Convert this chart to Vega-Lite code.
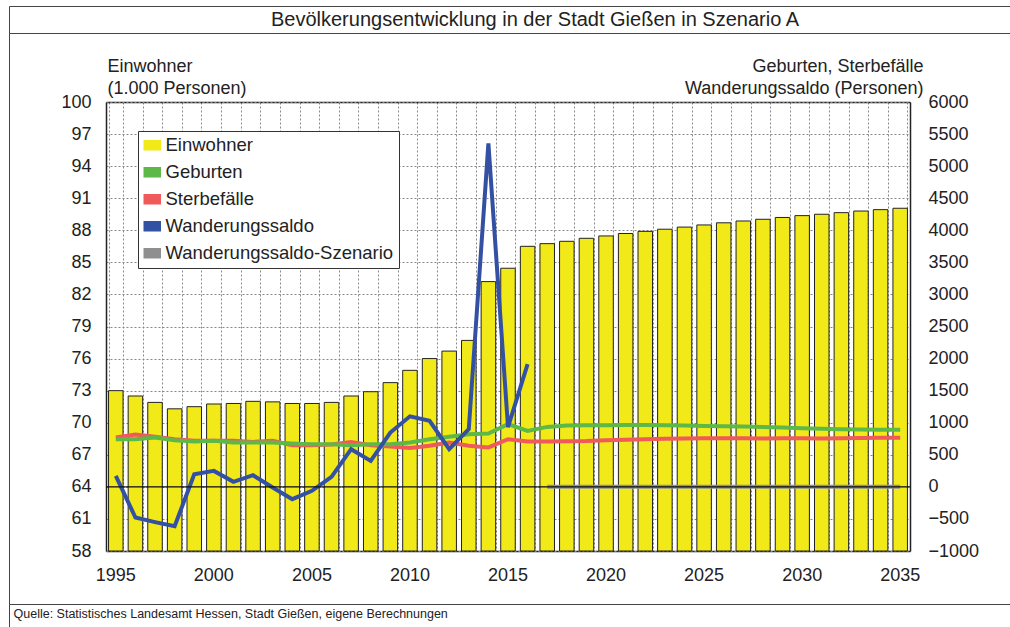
{
  "$schema": "https://vega.github.io/schema/vega-lite/v6.json",
  "padding": {"left": 8, "top": 5, "right": 0, "bottom": 0},
  "background": "white",
  "config": {
    "font": "Liberation Sans",
    "view": {"stroke": null},
    "axis": {"labelFont": "Liberation Sans", "titleFont": "Liberation Sans", "labelColor": "#222", "titleColor": "#222"}
  },
  "datasets": {
    "pop": [
      {"year": 1995, "einwohner": 73.0}, {"year": 1996, "einwohner": 72.5}, {"year": 1997, "einwohner": 71.9},
      {"year": 1998, "einwohner": 71.3}, {"year": 1999, "einwohner": 71.5}, {"year": 2000, "einwohner": 71.75},
      {"year": 2001, "einwohner": 71.8}, {"year": 2002, "einwohner": 72.0}, {"year": 2003, "einwohner": 71.95},
      {"year": 2004, "einwohner": 71.8}, {"year": 2005, "einwohner": 71.8}, {"year": 2006, "einwohner": 71.9},
      {"year": 2007, "einwohner": 72.5}, {"year": 2008, "einwohner": 72.9}, {"year": 2009, "einwohner": 73.75},
      {"year": 2010, "einwohner": 74.9}, {"year": 2011, "einwohner": 76.0}, {"year": 2012, "einwohner": 76.7},
      {"year": 2013, "einwohner": 77.7}, {"year": 2014, "einwohner": 83.2}, {"year": 2015, "einwohner": 84.45},
      {"year": 2016, "einwohner": 86.5}, {"year": 2017, "einwohner": 86.75}, {"year": 2018, "einwohner": 86.97},
      {"year": 2019, "einwohner": 87.25}, {"year": 2020, "einwohner": 87.47}, {"year": 2021, "einwohner": 87.7},
      {"year": 2022, "einwohner": 87.9}, {"year": 2023, "einwohner": 88.1}, {"year": 2024, "einwohner": 88.3},
      {"year": 2025, "einwohner": 88.5}, {"year": 2026, "einwohner": 88.7}, {"year": 2027, "einwohner": 88.87},
      {"year": 2028, "einwohner": 89.03}, {"year": 2029, "einwohner": 89.2}, {"year": 2030, "einwohner": 89.37},
      {"year": 2031, "einwohner": 89.5}, {"year": 2032, "einwohner": 89.65}, {"year": 2033, "einwohner": 89.8},
      {"year": 2034, "einwohner": 89.93}, {"year": 2035, "einwohner": 90.06}
    ],
    "flows": [
      {"year": 1995, "series": "Sterbefälle", "value": 769}, {"year": 1996, "series": "Sterbefälle", "value": 815},
      {"year": 1997, "series": "Sterbefälle", "value": 780}, {"year": 1998, "series": "Sterbefälle", "value": 743},
      {"year": 1999, "series": "Sterbefälle", "value": 717}, {"year": 2000, "series": "Sterbefälle", "value": 717},
      {"year": 2001, "series": "Sterbefälle", "value": 717}, {"year": 2002, "series": "Sterbefälle", "value": 701},
      {"year": 2003, "series": "Sterbefälle", "value": 717}, {"year": 2004, "series": "Sterbefälle", "value": 650},
      {"year": 2005, "series": "Sterbefälle", "value": 650}, {"year": 2006, "series": "Sterbefälle", "value": 660},
      {"year": 2007, "series": "Sterbefälle", "value": 700}, {"year": 2008, "series": "Sterbefälle", "value": 650},
      {"year": 2009, "series": "Sterbefälle", "value": 630}, {"year": 2010, "series": "Sterbefälle", "value": 605},
      {"year": 2011, "series": "Sterbefälle", "value": 640}, {"year": 2012, "series": "Sterbefälle", "value": 690},
      {"year": 2013, "series": "Sterbefälle", "value": 640}, {"year": 2014, "series": "Sterbefälle", "value": 615},
      {"year": 2015, "series": "Sterbefälle", "value": 743}, {"year": 2016, "series": "Sterbefälle", "value": 707},
      {"year": 2017, "series": "Sterbefälle", "value": 707}, {"year": 2018, "series": "Sterbefälle", "value": 710},
      {"year": 2019, "series": "Sterbefälle", "value": 715}, {"year": 2020, "series": "Sterbefälle", "value": 728},
      {"year": 2021, "series": "Sterbefälle", "value": 735}, {"year": 2022, "series": "Sterbefälle", "value": 743},
      {"year": 2023, "series": "Sterbefälle", "value": 750}, {"year": 2024, "series": "Sterbefälle", "value": 755},
      {"year": 2025, "series": "Sterbefälle", "value": 759}, {"year": 2026, "series": "Sterbefälle", "value": 759},
      {"year": 2027, "series": "Sterbefälle", "value": 759}, {"year": 2028, "series": "Sterbefälle", "value": 755},
      {"year": 2029, "series": "Sterbefälle", "value": 759}, {"year": 2030, "series": "Sterbefälle", "value": 759},
      {"year": 2031, "series": "Sterbefälle", "value": 755}, {"year": 2032, "series": "Sterbefälle", "value": 759},
      {"year": 2033, "series": "Sterbefälle", "value": 762}, {"year": 2034, "series": "Sterbefälle", "value": 765},
      {"year": 2035, "series": "Sterbefälle", "value": 765},
      {"year": 1995, "series": "Geburten", "value": 743}, {"year": 1996, "series": "Geburten", "value": 743},
      {"year": 1997, "series": "Geburten", "value": 769}, {"year": 1998, "series": "Geburten", "value": 728},
      {"year": 1999, "series": "Geburten", "value": 707}, {"year": 2000, "series": "Geburten", "value": 717},
      {"year": 2001, "series": "Geburten", "value": 691}, {"year": 2002, "series": "Geburten", "value": 691},
      {"year": 2003, "series": "Geburten", "value": 691}, {"year": 2004, "series": "Geburten", "value": 675},
      {"year": 2005, "series": "Geburten", "value": 665}, {"year": 2006, "series": "Geburten", "value": 665},
      {"year": 2007, "series": "Geburten", "value": 650}, {"year": 2008, "series": "Geburten", "value": 665},
      {"year": 2009, "series": "Geburten", "value": 665}, {"year": 2010, "series": "Geburten", "value": 691},
      {"year": 2011, "series": "Geburten", "value": 743}, {"year": 2012, "series": "Geburten", "value": 780},
      {"year": 2013, "series": "Geburten", "value": 821}, {"year": 2014, "series": "Geburten", "value": 831},
      {"year": 2015, "series": "Geburten", "value": 977}, {"year": 2016, "series": "Geburten", "value": 873},
      {"year": 2017, "series": "Geburten", "value": 935}, {"year": 2018, "series": "Geburten", "value": 955},
      {"year": 2019, "series": "Geburten", "value": 960}, {"year": 2020, "series": "Geburten", "value": 962},
      {"year": 2021, "series": "Geburten", "value": 965}, {"year": 2022, "series": "Geburten", "value": 965},
      {"year": 2023, "series": "Geburten", "value": 960}, {"year": 2024, "series": "Geburten", "value": 955},
      {"year": 2025, "series": "Geburten", "value": 950}, {"year": 2026, "series": "Geburten", "value": 945},
      {"year": 2027, "series": "Geburten", "value": 940}, {"year": 2028, "series": "Geburten", "value": 935},
      {"year": 2029, "series": "Geburten", "value": 925}, {"year": 2030, "series": "Geburten", "value": 915},
      {"year": 2031, "series": "Geburten", "value": 905}, {"year": 2032, "series": "Geburten", "value": 900},
      {"year": 2033, "series": "Geburten", "value": 895}, {"year": 2034, "series": "Geburten", "value": 890},
      {"year": 2035, "series": "Geburten", "value": 890},
      {"year": 1995, "series": "Wanderungssaldo", "value": 171}, {"year": 1996, "series": "Wanderungssaldo", "value": -478},
      {"year": 1997, "series": "Wanderungssaldo", "value": -550}, {"year": 1998, "series": "Wanderungssaldo", "value": -615},
      {"year": 1999, "series": "Wanderungssaldo", "value": 197}, {"year": 2000, "series": "Wanderungssaldo", "value": 249},
      {"year": 2001, "series": "Wanderungssaldo", "value": 78}, {"year": 2002, "series": "Wanderungssaldo", "value": 182},
      {"year": 2003, "series": "Wanderungssaldo", "value": -10}, {"year": 2004, "series": "Wanderungssaldo", "value": -192},
      {"year": 2005, "series": "Wanderungssaldo", "value": -62}, {"year": 2006, "series": "Wanderungssaldo", "value": 156},
      {"year": 2007, "series": "Wanderungssaldo", "value": 587}, {"year": 2008, "series": "Wanderungssaldo", "value": 405},
      {"year": 2009, "series": "Wanderungssaldo", "value": 847}, {"year": 2010, "series": "Wanderungssaldo", "value": 1100},
      {"year": 2011, "series": "Wanderungssaldo", "value": 1029}, {"year": 2012, "series": "Wanderungssaldo", "value": 587},
      {"year": 2013, "series": "Wanderungssaldo", "value": 899}, {"year": 2014, "series": "Wanderungssaldo", "value": 5353},
      {"year": 2015, "series": "Wanderungssaldo", "value": 930}, {"year": 2016, "series": "Wanderungssaldo", "value": 1913},
      {"year": 2017, "series": "Wanderungssaldo-Szenario", "value": 0}, {"year": 2018, "series": "Wanderungssaldo-Szenario", "value": 0},
      {"year": 2019, "series": "Wanderungssaldo-Szenario", "value": 0}, {"year": 2020, "series": "Wanderungssaldo-Szenario", "value": 0},
      {"year": 2021, "series": "Wanderungssaldo-Szenario", "value": 0}, {"year": 2022, "series": "Wanderungssaldo-Szenario", "value": 0},
      {"year": 2023, "series": "Wanderungssaldo-Szenario", "value": 0}, {"year": 2024, "series": "Wanderungssaldo-Szenario", "value": 0},
      {"year": 2025, "series": "Wanderungssaldo-Szenario", "value": 0}, {"year": 2026, "series": "Wanderungssaldo-Szenario", "value": 0},
      {"year": 2027, "series": "Wanderungssaldo-Szenario", "value": 0}, {"year": 2028, "series": "Wanderungssaldo-Szenario", "value": 0},
      {"year": 2029, "series": "Wanderungssaldo-Szenario", "value": 0}, {"year": 2030, "series": "Wanderungssaldo-Szenario", "value": 0},
      {"year": 2031, "series": "Wanderungssaldo-Szenario", "value": 0}, {"year": 2032, "series": "Wanderungssaldo-Szenario", "value": 0},
      {"year": 2033, "series": "Wanderungssaldo-Szenario", "value": 0}, {"year": 2034, "series": "Wanderungssaldo-Szenario", "value": 0},
      {"year": 2035, "series": "Wanderungssaldo-Szenario", "value": 0}
    ]
  },
  "bounds": "flush",
  "spacing": 0,
  "vconcat": [
    {
      "width": 1052,
      "height": 27,
      "view": {"stroke": "#444", "strokeWidth": 1},
      "data": {"values": [{"t": "Bevölkerungsentwicklung in der Stadt Gießen in Szenario A"}]},
      "mark": {"type": "text", "font": "Liberation Sans", "fontSize": 20, "color": "#222", "baseline": "middle"},
      "encoding": {"text": {"field": "t"}}
    },
    {
      "width": 1052,
      "height": 571,
      "view": {"stroke": "#444", "strokeWidth": 1},
      "layer": [
        {
          "data": {"name": "pop"},
          "mark": {"type": "point", "opacity": 0},
          "encoding": {
            "x": {
              "field": "year", "type": "ordinal",
              "scale": {"range": [97, 901], "paddingInner": 0.26, "paddingOuter": 0.13},
              "axis": {
                "orient": "top", "offset": -69, "tickBand": "extent", "grid": false,
                "ticks": true, "tickSize": -449, "tickColor": "#888", "tickDash": [2, 2], "tickWidth": 1,
                "labels": false, "domain": true, "domainColor": "#222", "domainWidth": 1.5, "title": null
              }
            },
            "y": {
              "field": "einwohner", "type": "quantitative",
              "scale": {"domain": [58, 100], "nice": false, "zero": false, "range": [518, 69]},
              "axis": {
                "orient": "left", "offset": -97,
                "values": [58, 61, 64, 67, 70, 73, 76, 79, 82, 85, 88, 91, 94, 97, 100],
                "grid": false, "ticks": true, "tickSize": -804, "tickColor": "#888", "tickDash": [2, 2], "tickWidth": 1,
                "labels": false, "domain": false, "title": null
              }
            }
          }
        },
        {
          "data": {"name": "pop"},
          "mark": {"type": "bar", "stroke": "#222", "strokeWidth": 1},
          "encoding": {
            "x": {
              "field": "year", "type": "ordinal",
              "scale": {"range": [97, 901], "paddingInner": 0.26, "paddingOuter": 0.13},
              "axis": {
                "orient": "bottom", "offset": -53, "grid": false,
                "ticks": false, "domain": true, "domainColor": "#222", "domainWidth": 1.5, "labelAngle": 0,
                "labelExpr": "datum.value % 5 === 0 ? datum.label : ''",
                "labelPadding": 15, "labelFontSize": 18, "labelOverlap": false, "labelBound": false,
                "title": "Quelle: Statistisches Landesamt Hessen, Stadt Gießen, eigene Berechnungen",
                "titleX": 4, "titleY": 62, "titleAlign": "left", "titleAnchor": "start", "titleBaseline": "middle",
                "titleFontSize": 12.5, "titleFontWeight": "normal", "titleAngle": 0
              }
            },
            "y": {
              "field": "einwohner", "type": "quantitative",
              "scale": {"domain": [58, 100], "nice": false, "zero": false, "range": [518, 69]},
              "axis": {
                "orient": "left", "offset": -97,
                "values": [58, 61, 64, 67, 70, 73, 76, 79, 82, 85, 88, 91, 94, 97, 100],
                "grid": false, "domain": true, "domainColor": "#222", "domainWidth": 1.5,
                "ticks": false, "labelPadding": 15, "labelFontSize": 18,
                "title": ["Einwohner", "(1.000 Personen)"],
                "titleAngle": 0, "titleAlign": "left", "titleX": 1, "titleY": 38,
                "titleBaseline": "alphabetic", "titleFontSize": 18, "titleFontWeight": "normal",
                "titleLineHeight": 22
              }
            },
            "y2": {"datum": 58},
            "color": {
              "datum": "Einwohner",
              "scale": {
                "domain": ["Einwohner", "Geburten", "Sterbefälle", "Wanderungssaldo", "Wanderungssaldo-Szenario"],
                "range": ["#F2E919", "#5CB947", "#F05A5A", "#3350A3", "#8F8F8F"]
              },
              "legend": {
                "title": null, "orient": "none", "legendX": 129, "legendY": 125,
                "fillColor": "white", "strokeColor": "#333", "padding": 5,
                "labelFont": "Liberation Sans", "labelFontSize": 18.5, "labelColor": "#222",
                "labelOffset": 4, "labelLimit": 400, "symbolSize": 256, "rowPadding": 8,
                "symbolType": "M-1,-0.55H1V0.55H-1Z",
                "encode": {
                  "symbols": {
                    "update": {
                      "shape": [
                        {"test": "datum.value === 'Einwohner'", "value": "M-1,-0.55H1V0.55H-1Z"},
                        {"value": "M-1,-0.25H1V0.25H-1Z"}
                      ],
                      "fill": [
                        {"test": "datum.value === 'Einwohner'", "value": "#F2E919"},
                        {"test": "datum.value === 'Geburten'", "value": "#5CB947"},
                        {"test": "datum.value === 'Sterbefälle'", "value": "#F05A5A"},
                        {"test": "datum.value === 'Wanderungssaldo'", "value": "#3350A3"},
                        {"value": "#8F8F8F"}
                      ],
                      "fillOpacity": {"value": 1},
                      "stroke": [
                        {"test": "datum.value === 'Einwohner'", "value": "#222"},
                        {"value": "transparent"}
                      ],
                      "strokeWidth": {"value": 1},
                      "opacity": {"value": 1}
                    }
                  }
                }
              }
            }
          }
        },
        {
          "layer": [
            {
              "data": {"name": "flows"},
              "mark": {"type": "line", "strokeWidth": 4},
              "encoding": {
                "x": {
                  "field": "year", "type": "ordinal",
                  "scale": {"range": [97, 901], "paddingInner": 0.26, "paddingOuter": 0.13},
                  "axis": null
                },
                "y": {
                  "field": "value", "type": "quantitative",
                  "scale": {"domain": [-1000, 6000], "nice": false, "zero": false, "range": [518, 69]},
                  "axis": {
                    "orient": "right", "offset": -151,
                    "values": [-1000, -500, 0, 500, 1000, 1500, 2000, 2500, 3000, 3500, 4000, 4500, 5000, 5500, 6000],
                    "format": "d",
                    "grid": false, "domain": true, "domainColor": "#222", "domainWidth": 1.5,
                    "ticks": false, "labelPadding": 18, "labelFontSize": 18,
                    "title": ["Geburten, Sterbefälle", "Wanderungssaldo (Personen)"],
                    "titleAngle": 0, "titleAlign": "right", "titleX": 13, "titleY": 38,
                    "titleBaseline": "alphabetic", "titleFontSize": 18, "titleFontWeight": "normal",
                    "titleLineHeight": 22
                  }
                },
                "color": {
                  "field": "series", "type": "nominal", "title": null,
                  "legend": {
                    "title": null, "orient": "none", "legendX": 129, "legendY": 125,
                    "fillColor": "white", "strokeColor": "#333", "padding": 5,
                    "labelFont": "Liberation Sans", "labelFontSize": 18.5, "labelColor": "#222",
                    "labelOffset": 4, "labelLimit": 400, "symbolSize": 256, "rowPadding": 8,
                    "symbolType": "M-1,-0.55H1V0.55H-1Z"
                  }
                }
              }
            },
            {
              "data": {"name": "pop"},
              "mark": {"type": "tick", "orient": "horizontal", "size": 19.61, "thickness": 1.3, "color": "#111", "opacity": 1},
              "encoding": {
                "x": {"field": "year", "type": "ordinal", "axis": null},
                "y": {"datum": 0, "type": "quantitative"}
              }
            }
          ]
        }
      ],
      "resolve": {"scale": {"y": "independent", "x": "independent"}}
    },
    {
      "width": 1052,
      "height": 40,
      "view": {"stroke": "#444", "strokeWidth": 1},
      "data": {"values": []},
      "mark": "point"
    }
  ]
}
